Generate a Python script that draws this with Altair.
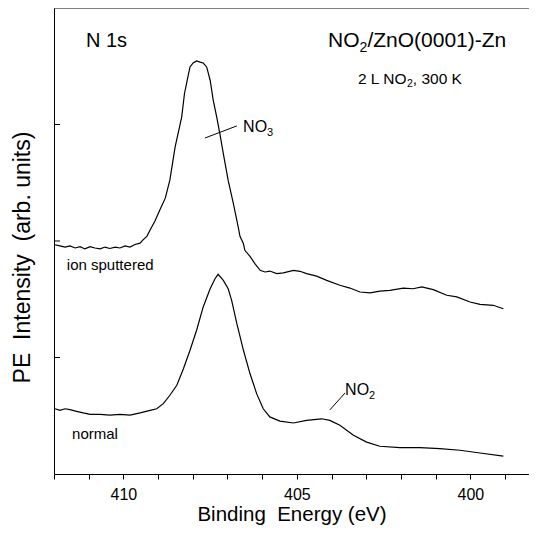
import altair as alt
import pandas as pd

# ion sputtered spectrum (binding energy in eV, intensity in arb. units)
up_E = [411.97, 411.83, 411.68, 411.54, 411.39, 411.25, 411.11, 410.96, 410.82, 410.67,
        410.53, 410.39, 410.24, 410.10, 409.95, 409.81, 409.67, 409.52, 409.44, 409.32,
        409.23, 409.09, 408.95, 408.79, 408.66, 408.51, 408.32, 408.24, 408.16, 408.08,
        407.99, 407.89, 407.79, 407.70, 407.60, 407.50, 407.41, 407.31, 407.22, 407.12,
        406.98, 406.83, 406.69, 406.64, 406.54, 406.50, 406.35, 406.21, 406.06, 405.92,
        405.78, 405.58, 405.39, 405.10, 404.91, 404.72, 404.43, 404.14, 403.76, 403.47,
        403.18, 402.89, 402.61, 402.32, 401.93, 401.65, 401.40, 401.07, 400.68, 400.39,
        400.01, 399.72, 399.34, 399.05]
up_I = [1.484, 1.479, 1.474, 1.479, 1.470, 1.476, 1.466, 1.476, 1.470, 1.466,
        1.474, 1.468, 1.474, 1.470, 1.479, 1.474, 1.485, 1.491, 1.504, 1.521,
        1.547, 1.586, 1.633, 1.685, 1.762, 1.903, 2.032, 2.132, 2.190, 2.247,
        2.264, 2.273, 2.268, 2.264, 2.247, 2.190, 2.104, 2.032, 1.961, 1.875,
        1.760, 1.660, 1.560, 1.520, 1.488, 1.460, 1.434, 1.403, 1.374, 1.367,
        1.371, 1.360, 1.363, 1.374, 1.370, 1.360, 1.349, 1.331, 1.310, 1.298,
        1.281, 1.277, 1.285, 1.288, 1.298, 1.295, 1.303, 1.291, 1.267, 1.260,
        1.238, 1.228, 1.224, 1.209]

# normal spectrum
lo_E = [411.97, 411.83, 411.68, 411.54, 411.35, 411.16, 410.96, 410.67, 410.39, 410.10,
        409.81, 409.52, 409.23, 409.04, 408.85, 408.66, 408.46, 408.27, 408.08, 407.89,
        407.70, 407.50, 407.36, 407.27, 407.12, 406.98, 406.88, 406.73, 406.54, 406.35,
        406.16, 405.97, 405.78, 405.49, 405.10, 404.72, 404.29, 404.05, 403.76, 403.37,
        402.99, 402.61, 402.03, 401.45, 400.88, 400.30, 399.72, 399.05]
lo_I = [0.780, 0.773, 0.780, 0.776, 0.769, 0.762, 0.756, 0.756, 0.753, 0.756,
        0.753, 0.762, 0.773, 0.780, 0.802, 0.838, 0.881, 0.952, 1.031, 1.117,
        1.217, 1.295, 1.338, 1.357, 1.331, 1.295, 1.245, 1.145, 1.031, 0.930,
        0.845, 0.780, 0.745, 0.727, 0.719, 0.730, 0.737, 0.730, 0.709, 0.666,
        0.637, 0.619, 0.613, 0.613, 0.609, 0.602, 0.590, 0.577]

x_ticks = [399, 400, 401, 402, 403, 404, 405, 406, 407, 408, 409, 410, 411, 412]
y_ticks = [1.0, 1.5, 2.0]

# annotation leaders: (E1, I1) -> (E2, I2)
lead_E1 = [407.65, 404.05]
lead_I1 = [1.942, 0.775]
lead_E2 = [406.73, 403.61]
lead_I2 = [1.994, 0.848]

W, H = 475, 466
FONT = "Liberation Sans"

df = pd.concat([
    pd.DataFrame({"E": up_E, "I": up_I, "s": "ion sputtered"}),
    pd.DataFrame({"E": lo_E, "I": lo_I, "s": "normal"}),
])

xs = alt.Scale(domain=[398.31, 412], reverse=True, nice=False, zero=False)
ys = alt.Scale(domain=[0.5, 2.5], nice=False, zero=False)

x_axis = alt.Axis(
    values=x_ticks,
    labelExpr="datum.value % 5 == 0 ? datum.label : ''",
    title="Binding\u00a0\u00a0Energy (eV)",
    tickSize=5, labelPadding=7, titlePadding=2,
    labelFontSize=16, titleFontSize=20.5)
y_axis = alt.Axis(
    values=y_ticks, ticks=False, labels=False,
    title="PE\u00a0\u00a0Intensity\u00a0\u00a0(arb.\u00a0units)",
    titlePadding=20, titleFontSize=23, titleY=249)

lines = alt.Chart(df).mark_line(color="black", strokeWidth=1.2).encode(
    x=alt.X("E:Q", scale=xs, axis=x_axis),
    y=alt.Y("I:Q", scale=ys, axis=y_axis),
    detail="s:N",
)

yt = alt.Chart(pd.DataFrame({"I": y_ticks})).mark_rule(color="black", strokeWidth=1).encode(
    y=alt.Y("I:Q", scale=ys, axis=y_axis), x=alt.value(0), x2=alt.value(6))

top = alt.Chart(pd.DataFrame({"a": [0]})).mark_rule(color="black", strokeWidth=1).encode(
    x=alt.value(0), x2=alt.value(W), y=alt.value(0))

leads = alt.Chart(pd.DataFrame({"E": lead_E1, "I": lead_I1, "E2": lead_E2, "I2": lead_I2})).mark_rule(
    color="black", strokeWidth=1).encode(
    x=alt.X("E:Q", scale=xs, axis=x_axis), y=alt.Y("I:Q", scale=ys, axis=y_axis),
    x2="E2:Q", y2="I2:Q")


def txt(e, i, s, size, dx=0, dy=0):
    return alt.Chart(pd.DataFrame({"E": [e], "I": [i], "t": [s]})).mark_text(
        align="left", baseline="alphabetic", font=FONT, fontSize=size, color="black",
        dx=dx, dy=dy).encode(
        x=alt.X("E:Q", scale=xs, axis=x_axis), y=alt.Y("I:Q", scale=ys, axis=y_axis), text="t:N")


texts = [
    txt(411.08, 2.333, "N 1s", 20),
    txt(404.10, 2.333, "NO", 21),
    txt(404.10, 2.333, "2", 14, dx=31.5, dy=5),
    txt(404.10, 2.333, "/ZnO(0001)-Zn", 21, dx=39.3),
    txt(403.24, 2.174, "2 L NO", 15.5),
    txt(403.24, 2.174, "2", 10.5, dx=49.1, dy=3.5),
    txt(403.24, 2.174, ", 300 K", 15.5, dx=54.9),
    txt(406.55, 1.968, "NO", 16),
    txt(406.55, 1.968, "3", 11, dx=24, dy=4),
    txt(403.61, 0.839, "NO", 16),
    txt(403.61, 0.839, "2", 11, dx=24, dy=4),
    txt(411.63, 1.376, "ion sputtered", 15),
    txt(411.48, 0.650, "normal", 15),
]

chart = alt.layer(lines, yt, top, leads, *texts).properties(
    width=W, height=H,
    padding={"left": 46, "top": 0, "right": 0, "bottom": 52},
    autosize=alt.AutoSizeParams(type="none"),
).configure_view(stroke="transparent", strokeWidth=0).configure_axis(
    grid=False, domainColor="black", domainWidth=1, tickColor="black",
    labelColor="black", titleColor="black", labelFont=FONT, titleFont=FONT,
    titleFontWeight="normal",
)

chart.save("out.html", embed_options={"renderer": "svg", "actions": False})
